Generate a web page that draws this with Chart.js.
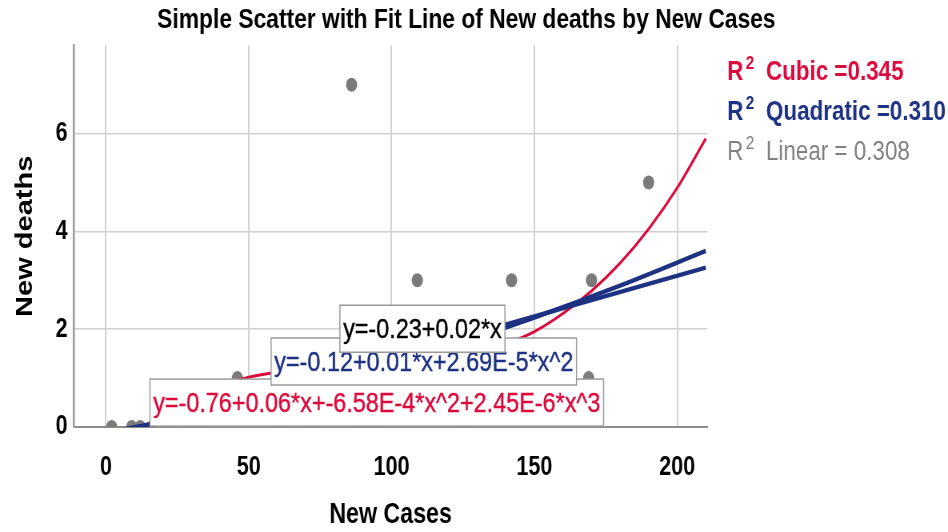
<!DOCTYPE html>
<html>
<head>
<meta charset="utf-8">
<script src="https://cdn.jsdelivr.net/npm/chart.js@4"></script>
<style>
html, body { margin: 0; padding: 0; background: #fff; overflow: hidden; }
/* the reference is a horizontally squeezed render, so draw wide and squeeze */
#fitChart { display: block; transform: scaleX(0.8); transform-origin: 0 0; }
</style>
</head>
<body>
<canvas id="fitChart" width="1185" height="532"></canvas>
<script>
// observed points
var newCases  = [2, 9, 12, 18, 23, 30, 34, 46, 60, 73, 86, 88, 94, 109, 125, 142, 169, 170, 190];
var newDeaths = [0, 0, 0, 0, 0, 0, 0, 1, 0, 0, 7, 0, 0, 3, 0, 3, 1, 3, 5];

// fit lines, values
var cubicX = [0, 10, 20, 30, 40, 50, 60, 70, 80, 90, 100, 110, 120, 130, 140, 150, 160, 170, 180, 190, 200, 210];
var cubicY = [-0.7, -0.16, 0.28, 0.6, 0.85, 1.02, 1.12, 1.18, 1.22, 1.25, 1.28, 1.33, 1.41, 1.52, 1.7, 1.95, 2.32, 2.78, 3.35, 4.05, 4.89, 5.9];
var quadX = [0, 30, 60, 90, 120, 150, 180, 210];
var quadY = [-0.12, 0.23, 0.64, 1.11, 1.65, 2.24, 2.89, 3.6];
var linX = [0, 210];
var linY = [-0.23, 3.26];

var xTicks = [0, 50, 100, 150, 200];
var yTicks = [0, 2, 4, 6];

var rsqNames = ["Cubic =0.345", "Quadratic =0.310", "Linear = 0.308"];
var eqCubic = "y=-0.76+0.06*x+-6.58E-4*x^2+2.45E-6*x^3";
var eqQuad = "y=-0.12+0.01*x+2.69E-5*x^2";
var eqLin = "y=-0.23+0.02*x";

var RED = "#dc0a3c";
var NAVY = "#1d3282";
var FONT = '"Liberation Sans", Arial, sans-serif';

function pts(xs, ys) {
  return xs.map(function (x, i) { return { x: x, y: ys[i] }; });
}

var fitLabels = {
  id: "fitLabels",
  afterDraw: function (chart) {
    var ctx = chart.ctx, area = chart.chartArea;
    var xs = chart.scales.x, ys = chart.scales.y;
    ctx.save();

    // equation boxes, cubic first so the others sit on top of it.
    // their text is less squeezed in the reference, so widen it a bit
    var boxes = [
      { text: eqCubic, color: RED, at: [15.4, 0.98] },
      { text: eqQuad, color: NAVY, at: [57.8, 1.82] },
      { text: eqLin, color: "#000", at: [81.9, 2.49] }
    ];
    var widen = 1.083;
    ctx.font = "27px " + FONT;
    ctx.textAlign = "left";
    ctx.textBaseline = "middle";
    boxes.forEach(function (b) {
      var left = xs.getPixelForValue(b.at[0]);
      var top = ys.getPixelForValue(b.at[1]);
      var w = ctx.measureText(b.text).width * widen + 8, h = 47;
      ctx.fillStyle = "#fff";
      ctx.fillRect(left, top, w, h);
      ctx.strokeStyle = "#9a9a9a";
      ctx.lineWidth = 1.5;
      ctx.strokeRect(left, top, w, h);
      ctx.save();
      ctx.translate(left + 4, top + h / 2 + 2);
      ctx.scale(widen, 1);
      ctx.fillStyle = b.color;
      ctx.strokeStyle = b.color;
      ctx.lineWidth = 0.4;
      ctx.fillText(b.text, 0, 0);
      ctx.strokeText(b.text, 0, 0);
      ctx.restore();
    });

    // R squared legend
    var rows = [
      { name: rsqNames[0], color: RED, weight: "bold " },
      { name: rsqNames[1], color: NAVY, weight: "bold " },
      { name: rsqNames[2], color: "#808080", weight: "" }
    ];
    var x0 = area.right + 25;
    rows.forEach(function (r, i) {
      var y = area.top + 27 + i * 40;
      ctx.fillStyle = r.color;
      ctx.font = r.weight + "28px " + FONT;
      ctx.fillText("R", x0, y);
      var wR = ctx.measureText("R").width;
      ctx.font = r.weight + "19px " + FONT;
      ctx.fillText("2", x0 + wR + 3, y - 9);
      ctx.font = r.weight + "28px " + FONT;
      ctx.fillText(r.name, x0 + 48.5, y);
    });
    ctx.restore();
  }
};

var ctxF = document.getElementById("fitChart");
var fitChart = new Chart(ctxF, {
  type: "scatter",
  data: {
    datasets: [{
      label: "Linear",
      data: pts(linX, linY),
      showLine: true,
      borderColor: NAVY,
      borderWidth: 4.5,
      pointRadius: 0,
      clip: 0,
      order: 1
    }, {
      label: "Quadratic",
      data: pts(quadX, quadY),
      showLine: true,
      cubicInterpolationMode: "monotone",
      borderColor: NAVY,
      borderWidth: 4.5,
      pointRadius: 0,
      clip: 0,
      order: 2
    }, {
      label: "Cubic",
      data: pts(cubicX, cubicY),
      showLine: true,
      cubicInterpolationMode: "monotone",
      borderColor: RED,
      borderWidth: 3,
      pointRadius: 0,
      clip: 0,
      order: 3
    }, {
      label: "New deaths",
      data: pts(newCases, newDeaths),
      backgroundColor: "#7b7b7b",
      borderWidth: 0,
      pointRadius: 7,
      clip: 0,
      order: 4
    }]
  },
  options: {
    responsive: false,
    animation: false,
    devicePixelRatio: 1,
    layout: { padding: { left: 0, top: 0, bottom: 0, right: 19 } },
    plugins: {
      legend: { display: false },
      tooltip: { enabled: false },
      title: {
        display: true,
        text: "Simple Scatter with Fit Line of New deaths by New Cases",
        color: "#000",
        font: { family: FONT, size: 28.5, weight: "bold" },
        padding: { top: 3, bottom: 8.4 }
      }
    },
    scales: {
      x: {
        type: "linear",
        min: -11.2,
        max: 210.5,
        afterBuildTicks: function (a) { a.ticks = xTicks.map(function (v) { return { value: v }; }); },
        afterFit: function (a) { a.height = 105; },
        ticks: { color: "#000", padding: 24, font: { family: FONT, size: 27, weight: "bold" } },
        grid: { color: "#d2d2d2", lineWidth: 2, drawTicks: false },
        border: { color: "#8c8c8c", width: 2 },
        title: {
          display: true,
          text: "New Cases",
          color: "#000",
          font: { family: FONT, size: 29, weight: "bold" },
          padding: { top: 0, bottom: 0 }
        }
      },
      y: {
        min: 0,
        max: 7.8,
        afterBuildTicks: function (a) { a.ticks = yTicks.map(function (v) { return { value: v }; }); },
        afterFit: function (a) { a.width = 92.5; },
        ticks: { color: "#000", padding: 8, font: { family: FONT, size: 27, weight: "bold" } },
        grid: { color: "#cfcfcf", lineWidth: 1.5, drawTicks: false },
        border: { color: "#9a9a9a", width: 2.5 },
        title: {
          display: true,
          text: "New deaths",
          color: "#000",
          font: { family: FONT, size: 29, weight: "bold" },
          padding: { top: 15, bottom: 0 }
        }
      },
      yR: {
        position: "right",
        afterFit: function (a) { a.width = 282; },
        ticks: { display: false },
        grid: { display: false },
        border: { display: false }
      }
    }
  },
  plugins: [fitLabels]
});
</script>
</body>
</html>
